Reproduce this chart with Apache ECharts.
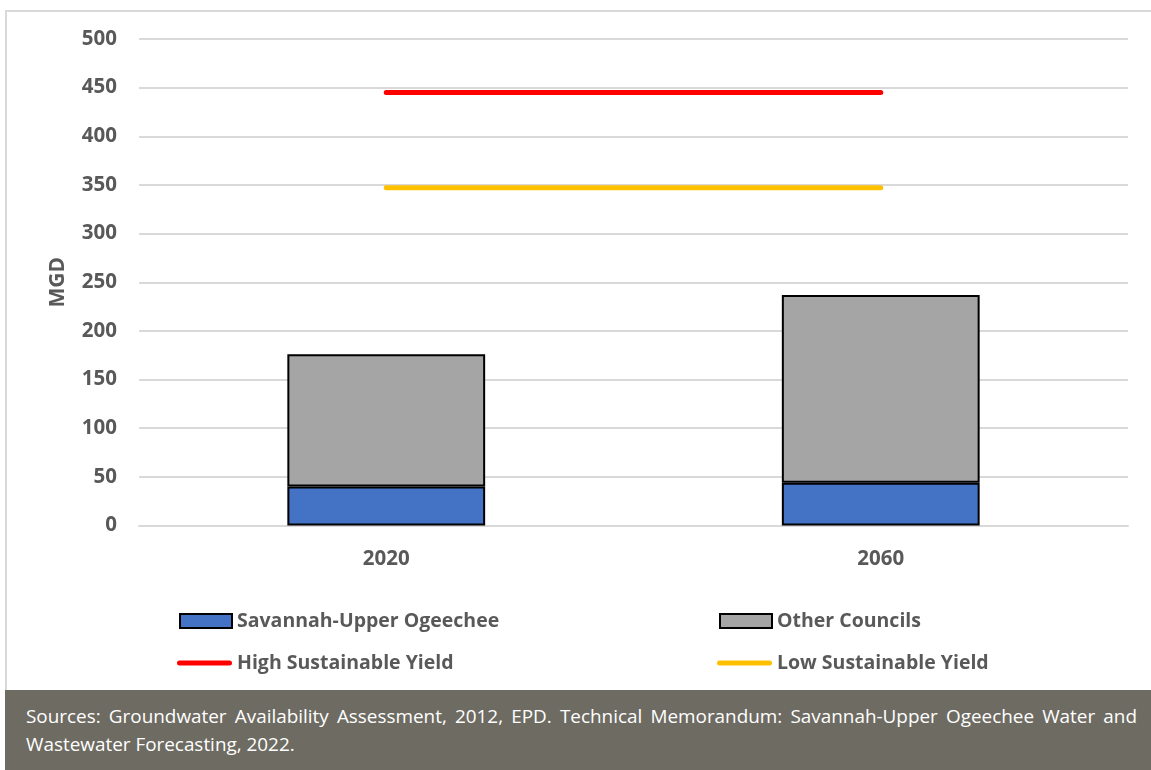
<!DOCTYPE html>
<html>
<head>
<meta charset="utf-8">
<script src="https://cdn.jsdelivr.net/npm/echarts@6/dist/echarts.min.js"></script>
<style>
  html, body { margin: 0; padding: 0; background: #ffffff; }
  #frame {
    position: absolute; left: 5px; top: 10px; width: 1146px; height: 678px;
    border-top: 2px solid #d9d9d9; border-left: 2px solid #d9d9d9;
    box-sizing: content-box;
  }
  #chart { position: absolute; left: 0; top: 0; width: 1151px; height: 690px; }
  #note {
    position: absolute; left: 5px; top: 690px; width: 1146px; height: 80px;
    background: #6e6b62; box-sizing: border-box;
    padding: 12px 14px 0 21px;
    color: #ffffff; font-family: "Open Sans", sans-serif; font-size: 18.9px; line-height: 28px;
  }
  #note .full { text-align: justify; text-align-last: justify; }
</style>
</head>
<body>
<div id="frame"></div>
<div id="chart"></div>
<div id="note">
  <div class="full">Sources: Groundwater Availability Assessment, 2012, EPD. Technical Memorandum: Savannah-Upper Ogeechee Water and</div>
  <div>Wastewater Forecasting, 2022.</div>
</div>
<script>
// Groundwater demand (MGD) by planning horizon
const years = ['2020', '2060'];
const savannahUpperOgeechee = [40, 44];
const otherCouncils = [136, 193];
const highSustainableYield = [445, 445];
const lowSustainableYield = [347, 347];
const yTicks = { min: 0, max: 500, step: 50 };

const textGray = '#595959';
const fontFamily = '"Open Sans", "Noto Sans", sans-serif';
// thick line with rounded ends for the yield legend keys
const roundLine = 'path://M2.5,0 H52.5 A2.5,2.5 0 0 1 52.5,5 H2.5 A2.5,2.5 0 0 1 2.5,0 Z';

const chart = echarts.init(document.getElementById('chart'), null, { renderer: 'canvas' });

function legendAt(name, left, top, w, h, icon) {
  return {
    data: [name], left: left, top: top, itemWidth: w, itemHeight: h, itemGap: 0, padding: 0,
    icon: icon,
    textStyle: { color: textGray, fontFamily: fontFamily, fontWeight: 'bold', fontSize: 19.5 },
    selectedMode: false
  };
}

chart.setOption({
  backgroundColor: 'transparent',
  animation: false,
  grid: { left: 139, right: 23, top: 39, bottom: 164.5 },
  legend: [
    legendAt('Savannah-Upper Ogeechee', 179, 611, 52, 14, 'rect'),
    legendAt('Other Councils', 719, 611, 52, 14, 'rect'),
    legendAt('High Sustainable Yield', 177, 653, 55, 5, roundLine),
    legendAt('Low Sustainable Yield', 717, 653, 55, 5, roundLine)
  ],
  xAxis: {
    type: 'category', data: years,
    axisLine: { show: true, lineStyle: { color: '#d9d9d9', width: 2 } },
    axisTick: { show: false },
    axisLabel: { color: textGray, fontFamily: fontFamily, fontWeight: 'bold', fontSize: 20.5, margin: 23 }
  },
  yAxis: {
    type: 'value', min: yTicks.min, max: yTicks.max, interval: yTicks.step,
    name: 'MGD', nameLocation: 'middle', nameGap: 70, nameRotate: 90,
    nameTextStyle: { color: textGray, fontFamily: fontFamily, fontWeight: 'bold', fontSize: 21 },
    axisLine: { show: false }, axisTick: { show: false },
    axisLabel: { color: textGray, fontFamily: fontFamily, fontWeight: 'bold', fontSize: 20.5, margin: 22 },
    splitLine: { lineStyle: { color: '#d9d9d9', width: 2 } }
  },
  series: [
    {
      name: 'Savannah-Upper Ogeechee', type: 'bar', stack: 'demand', data: savannahUpperOgeechee,
      barCategoryGap: '60%',
      itemStyle: { color: '#4472c4', borderColor: '#000000', borderWidth: 2 }
    },
    {
      name: 'Other Councils', type: 'bar', stack: 'demand', data: otherCouncils,
      barCategoryGap: '60%',
      itemStyle: { color: '#a5a5a5', borderColor: '#000000', borderWidth: 2 }
    },
    {
      name: 'High Sustainable Yield', type: 'line', data: highSustainableYield,
      symbol: 'none', lineStyle: { color: '#ff0000', width: 5, cap: 'round' },
      itemStyle: { color: '#ff0000' }
    },
    {
      name: 'Low Sustainable Yield', type: 'line', data: lowSustainableYield,
      symbol: 'none', lineStyle: { color: '#ffc000', width: 5, cap: 'round' },
      itemStyle: { color: '#ffc000' }
    }
  ]
});
</script>
</body>
</html>
